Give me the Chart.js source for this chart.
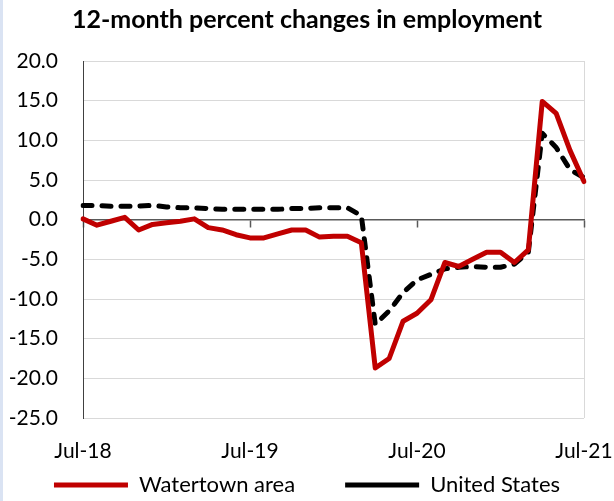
<!DOCTYPE html>
<html>
<head>
<meta charset="utf-8">
<script src="https://cdn.jsdelivr.net/npm/chart.js@4.4.1/dist/chart.umd.min.js"></script>
<style>
  html, body { margin: 0; padding: 0; background: #fff; }
  #wrap { position: relative; width: 614px; height: 501px; }
  #edge { position: absolute; left: 0; top: 0; width: 3px; height: 501px; background: #dae3f3; }
</style>
</head>
<body>
<div id="wrap">
  <canvas id="chart" width="614" height="501"></canvas>
  <div id="edge"></div>
</div>
<script>
// monthly categories, Jul-18 .. Jul-21
const months = [
  "Jul-18", "Aug-18", "Sep-18", "Oct-18", "Nov-18", "Dec-18",
  "Jan-19", "Feb-19", "Mar-19", "Apr-19", "May-19", "Jun-19",
  "Jul-19", "Aug-19", "Sep-19", "Oct-19", "Nov-19", "Dec-19",
  "Jan-20", "Feb-20", "Mar-20", "Apr-20", "May-20", "Jun-20",
  "Jul-20", "Aug-20", "Sep-20", "Oct-20", "Nov-20", "Dec-20",
  "Jan-21", "Feb-21", "Mar-21", "Apr-21", "May-21", "Jun-21",
  "Jul-21"
];
const tickLabels = ["Jul-18", "Jul-19", "Jul-20", "Jul-21"];

const watertown = [
  0.1, -0.7, -0.2, 0.3, -1.3, -0.6, -0.4, -0.2, 0.1, -1.0, -1.3, -1.9,
  -2.3, -2.3, -1.8, -1.3, -1.3, -2.2, -2.1, -2.1, -2.9, -18.7, -17.5, -12.8,
  -11.8, -10.1, -5.4, -5.9, -5.0, -4.1, -4.1, -5.4, -3.8, 14.9, 13.4, 8.7,
  4.8
];
const unitedStates = [
  1.8, 1.8, 1.7, 1.7, 1.7, 1.8, 1.6, 1.5, 1.5, 1.4, 1.3, 1.3,
  1.3, 1.3, 1.3, 1.4, 1.4, 1.5, 1.5, 1.5, 0.5, -13.2, -11.5, -9.2,
  -7.6, -6.9, -6.2, -6.0, -5.9, -6.0, -6.0, -5.6, -4.1, 10.9, 9.1, 6.3,
  5.3
];

const yMin = -25;
const yMax = 20;
const yStep = 5;

const fontFamily = "Lato, 'Open Sans', sans-serif";

// legend padding is also the gap between items; keep the box short and
// move its top up so the wide gap doesn't push the entries down
const legendGap = 50;
const legendBoxHeight = 44.4;
const legendSpacing = {
  id: "legendSpacing",
  afterInit(chart) {
    const legend = chart.legend;
    const fit = legend.fit;
    legend.fit = function () {
      fit.call(this);
      this.height = legendBoxHeight;
    };
  },
  afterLayout(chart) {
    chart.legend.top -= legendGap - 8;
  },
};

new Chart(document.getElementById("chart"), {
  type: "line",
  data: {
    labels: months,
    datasets: [
      {
        label: "Watertown area",
        data: watertown,
        borderColor: "#C00000",
        backgroundColor: "#C00000",
        borderWidth: 5,
        borderCapStyle: "round",
        borderJoinStyle: "round",
        pointRadius: 0,
        tension: 0,
      },
      {
        label: "United States",
        data: unitedStates,
        borderColor: "#000000",
        backgroundColor: "#000000",
        borderWidth: 5,
        borderDash: [9, 10],
        borderCapStyle: "round",
        borderJoinStyle: "round",
        pointRadius: 0,
        tension: 0,
      },
    ],
  },
  options: {
    responsive: false,
    animation: false,
    layout: { padding: { left: 0, right: 0, top: 0, bottom: -9.4 } },
    scales: {
      x: {
        type: "category",
        position: "bottom",
        offset: false,
        border: { display: false },
        grid: {
          drawTicks: false,
          // only the right edge of the plot frame
          color: (ctx) => (ctx.index === months.length - 1 ? "#d9d9d9" : "rgba(0,0,0,0)"),
        },
        ticks: {
          autoSkip: false,
          maxRotation: 0,
          padding: 21,
          color: "#000",
          font: { family: fontFamily, size: 21 },
          callback: function (value) {
            const label = this.getLabelForValue(value);
            return tickLabels.includes(label) ? label : "";
          },
        },
        afterFit: (scale) => {
          scale.height = 48;
          scale.paddingLeft = 0;
          scale.paddingRight = 30;
        },
      },
      x0: {
        type: "category",
        position: { y: 0 },
        offset: false,
        border: { display: true, color: "#595959", width: 1.5 },
        grid: {
          drawOnChartArea: false,
          drawTicks: true,
          tickLength: 7,
          tickWidth: 1.5,
          tickColor: (ctx) => {
            const label = months[ctx.index];
            return tickLabels.includes(label) ? "#595959" : "rgba(0,0,0,0)";
          },
        },
        ticks: { display: false, autoSkip: false },
      },
      y: {
        min: yMin,
        max: yMax,
        border: { display: true, color: "#404040", width: 1 },
        grid: {
          drawTicks: false,
          color: (ctx) => (ctx.tick && ctx.tick.value === 0 ? "#595959" : "#d9d9d9"),
          lineWidth: 1,
        },
        ticks: {
          stepSize: yStep,
          padding: 25,
          color: "#000",
          font: { family: fontFamily, size: 21 },
          callback: (v) => v.toFixed(1),
        },
        afterFit: (scale) => { scale.width = 83; },
      },
    },
    plugins: {
      title: {
        display: true,
        text: "12-month percent changes in employment",
        color: "#000",
        font: { family: fontFamily, size: 25, weight: "bold" },
        padding: { top: 5, bottom: 26 },
      },
      legend: {
        display: true,
        position: "bottom",
        labels: {
          usePointStyle: true,
          pointStyle: "line",
          pointStyleWidth: 74,
          padding: legendGap,
          color: "#000",
          font: { family: fontFamily, size: 22 },
        },
      },
      tooltip: { enabled: false },
    },
  },
  plugins: [legendSpacing],
});
</script>
</body>
</html>
